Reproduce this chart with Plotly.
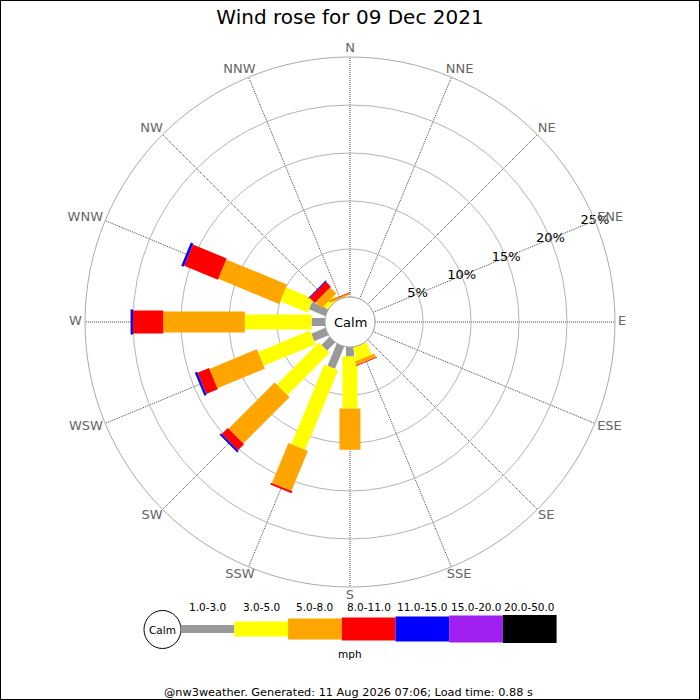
import math
import plotly.graph_objects as go

# ---------------- data ----------------
directions = ["N", "NNE", "NE", "ENE", "E", "ESE", "SE", "SSE",
              "S", "SSW", "SW", "WSW", "W", "WNW", "NW", "NNW"]
dir_angles = [i * 22.5 for i in range(16)]

speed_classes = ["1.0-3.0", "3.0-5.0", "5.0-8.0", "8.0-11.0",
                 "11.0-15.0", "15.0-20.0", "20.0-50.0"]

#                N  NNE NE ENE E  ESE SE  SSE   S     SSW   SW    WSW   W     WNW   NW    NNW
pct_1_3   = [0, 0, 0, 0, 0, 0, 0, 0.0,  1.0,  2.5,  1.2,  1.6,  1.4,  1.85, 0.0,  0.0]
pct_3_5   = [0, 0, 0, 0, 0, 0, 0, 1.4,  5.4,  9.0,  6.2,  5.85, 6.95, 3.1,  0.5,  0.05]
pct_5_8   = [0, 0, 0, 0, 0, 0, 0, 0.4,  4.3,  4.5,  6.8,  5.35, 8.5,  6.85, 0.9,  0.15]
pct_8_11  = [0, 0, 0, 0, 0, 0, 0, 0.1,  0.0,  0.2,  0.9,  1.3,  3.15, 3.8,  0.75, 0.08]
pct_11_15 = [0, 0, 0, 0, 0, 0, 0, 0.0,  0.0,  0.0,  0.2,  0.25, 0.25, 0.28, 0.1,  0.0]
pct_15_20 = [0] * 16
pct_20_50 = [0] * 16

radial_ticks = [5, 10, 15, 20, 25]
title_text = "Wind rose for 09 Dec 2021"
footer_text = "@nw3weather. Generated: 11 Aug 2026 07:06; Load time: 0.88 s"

# ---------------- styling ----------------
class_values = [pct_1_3, pct_3_5, pct_5_8, pct_8_11, pct_11_15, pct_15_20, pct_20_50]
class_colors = ["#999999", "#ffff00", "#ffa500", "#ff0000", "#0000ff", "#a020f0", "#000000"]
class_widths = [8, 15, 21, 23, 25, 27, 28]

FONT = "DejaVu Sans"
W = H = 700
cx, cy, R = 350, 322, 265
HOLE = 25
RMAX = 25
DIR_FONT = 13
R2 = 300  # label overlay polar, radius in px (radial unit = 1 px)


def px(x):
    return x / W


def py(y):
    return 1 - y / H


def ann(text, x, y, size, color="#000000"):
    return dict(text=text, x=px(x), y=py(y), xref="paper", yref="paper",
                xanchor="center", yanchor="middle", showarrow=False,
                font=dict(family=FONT, size=size, color=color))


fig = go.Figure()

# hole edge circle ("Calm")
fig.add_trace(go.Scatterpolar(
    r=[0] * 361, theta=list(range(361)), mode="lines",
    line=dict(color="#aaaaaa", width=1), hoverinfo="skip", showlegend=False))

# stacked bars drawn as thick radial line segments
cum = [0.0] * 16
for vals, color, w in zip(class_values, class_colors, class_widths):
    rr, tt = [], []
    for i in range(16):
        if vals[i] > 0:
            rr += [cum[i], cum[i] + vals[i], None]
            tt += [dir_angles[i], dir_angles[i], None]
            cum[i] += vals[i]
    if rr:
        fig.add_trace(go.Scatterpolar(
            r=rr, theta=tt, mode="lines", connectgaps=False,
            line=dict(color=color, width=w), hoverinfo="skip", showlegend=False))

# radial tick labels along ENE spoke
fig.add_trace(go.Scatterpolar(
    r=radial_ticks, theta=[67.5] * len(radial_ticks), mode="text",
    text=[f"{v}%" for v in radial_ticks], textposition="middle center",
    textfont=dict(family=FONT, size=13, color="#000000"),
    cliponaxis=False, hoverinfo="skip", showlegend=False))

# compass direction labels just outside the outer ring (overlay polar in px units)
char_w = {"N": 0.748, "E": 0.632, "S": 0.635, "W": 0.989}
lab_r, lab_t = [], []
for name, ang in zip(directions, dir_angles):
    hw = 0.5 * DIR_FONT * sum(char_w[c] for c in name)
    s, c = math.sin(math.radians(ang)), math.cos(math.radians(ang))
    dx = math.copysign(2.7 * min(1.0, abs(s) * 3) + 1.05 * hw * abs(s), s) if abs(s) > 1e-9 else 0.0
    dy = 8.3 * c  # upward offset in px
    x = R * s + dx
    y = R * c + dy
    lab_r.append(math.hypot(x, y))
    lab_t.append(math.degrees(math.atan2(x, y)) % 360)
fig.add_trace(go.Scatterpolar(
    r=lab_r, theta=lab_t, mode="text", text=directions, subplot="polar2",
    textposition="middle center",
    textfont=dict(family=FONT, size=DIR_FONT, color="#666666"),
    cliponaxis=False, hoverinfo="skip", showlegend=False))

hidden_axis = dict(visible=False, showgrid=False, showline=False, showticklabels=False, ticks="")

fig.update_layout(
    width=W, height=H,
    margin=dict(l=0, r=0, t=0, b=0),
    paper_bgcolor="white", plot_bgcolor="white",
    font=dict(family=FONT, color="#000000"),
    title=dict(text=title_text, x=0.5, xanchor="center", y=py(17), yanchor="middle",
               yref="container", font=dict(family=FONT, size=20, color="#000000")),
    polar=dict(
        domain=dict(x=[px(cx - R), px(cx + R)], y=[py(cy + R), py(cy - R)]),
        bgcolor="white",
        hole=HOLE / R,
        radialaxis=dict(range=[0, RMAX], tickvals=radial_ticks[:-1], showticklabels=False,
                        ticks="", showline=False, gridcolor="#b4b4b4", gridwidth=1),
        angularaxis=dict(direction="clockwise", rotation=90,
                         tickmode="array", tickvals=dir_angles, ticktext=directions,
                         showticklabels=False,
                         ticks="", showline=True, linecolor="#aaaaaa", linewidth=1,
                         gridcolor="#444444", griddash="1px,1px", gridwidth=1),
    ),
    polar2=dict(
        domain=dict(x=[px(cx - R2), px(cx + R2)], y=[py(cy + R2), py(cy - R2)]),
        bgcolor="rgba(0,0,0,0)",
        radialaxis=dict(range=[0, R2], **hidden_axis),
        angularaxis=dict(direction="clockwise", rotation=90, **hidden_axis),
    ),
)

shapes = []
annotations = []

# center label
annotations.append(ann("Calm", cx, cy, 13))

# ---------------- legend ----------------
leg_y = 629
seg_w = 53.7
x0 = 180.7
shapes.append(dict(type="circle", xref="paper", yref="paper",
                   x0=px(162.5 - 18.5), x1=px(162.5 + 18.5), y0=py(629.5 + 19), y1=py(629.5 - 19),
                   line=dict(color="#000000", width=1), fillcolor="white"))
annotations.append(ann("Calm", 162.5, 630, 10.5))
for k, (lab, color, w) in enumerate(zip(speed_classes, class_colors, class_widths)):
    xa = x0 + k * seg_w
    xb = xa + seg_w
    shapes.append(dict(type="rect", xref="paper", yref="paper",
                       x0=px(xa), x1=px(xb), y0=py(leg_y + w / 2), y1=py(leg_y - w / 2),
                       line=dict(width=0), fillcolor=color, layer="above"))
    annotations.append(ann(lab, (xa + xb) / 2, 607, 10.5))
annotations.append(ann("mph", 350.5, 654, 10.5))

# footer
annotations.append(ann(footer_text, 348, 692, 11.3))

# border
shapes.append(dict(type="rect", xref="paper", yref="paper", x0=0, x1=1, y0=0, y1=1,
                   line=dict(color="#000000", width=2), fillcolor="rgba(0,0,0,0)"))

fig.update_layout(shapes=shapes, annotations=annotations)

fig.write_html("out.html", config={"displayModeBar": False},
               post_script="document.body.style.margin='0';document.body.style.overflow='hidden';")
